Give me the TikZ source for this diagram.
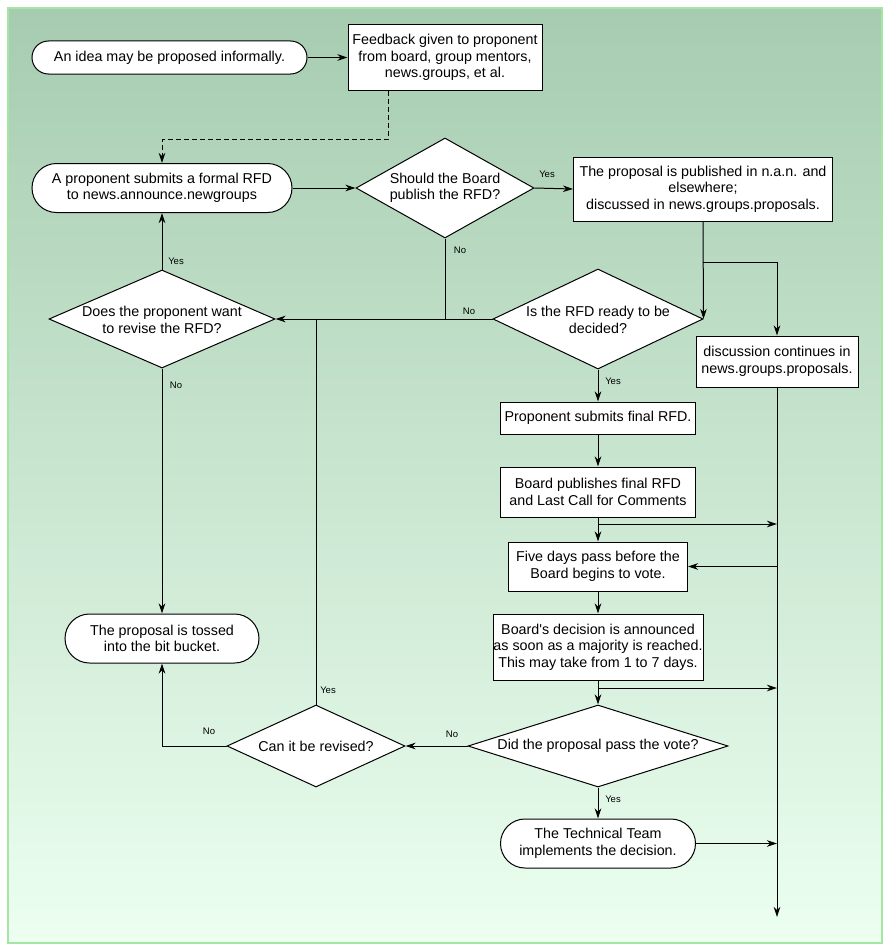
\documentclass[tikz,border=0pt]{standalone}
\usepackage{fontspec}
\setmainfont{Liberation Sans}[Ligatures=TeXOff]
\usetikzlibrary{shapes.geometric,shapes.misc,arrows.meta,calc}
\definecolor{bgtop}{RGB}{166,204,176}
\definecolor{bgbot}{RGB}{236,255,240}
\definecolor{bgframe}{RGB}{165,230,165}
\begin{document}
\begin{tikzpicture}[x=1pt,y=-1pt,
  line width=1pt,
  every node/.style={font=\fontsize{14.3}{16.5}\selectfont, align=center, inner sep=0pt},
  term/.style={rounded rectangle, draw, fill=white},
  procbox/.style={rectangle, draw, fill=white},
  dia/.style={diamond, draw, fill=white},
  lbl/.style={font=\fontsize{9.5}{10}\selectfont},
  arr/.style={-{Stealth[length=10pt,width=6.5pt,inset=3pt]}}
]
\useasboundingbox (0,0) rectangle (889,950);
\shade[top color=bgtop, bottom color=bgbot] (8,8) rectangle (882,943);
\draw[bgframe, line width=1.5pt] (8,8) rectangle (882,943);

% nodes
\node[term, minimum width=275pt, minimum height=33pt] (idea) at (169.5,57.5) {An idea may be proposed informally.};
\node[procbox, minimum width=194pt, minimum height=65pt] (fb) at (445,57.5) {Feedback given to proponent\\from board, group mentors,\\news.groups, et al.};
\node[term, minimum width=260pt, minimum height=49pt] (prop) at (162,188) {A proponent submits a formal RFD\\to news.announce.newgroups};
\node[dia, minimum width=178pt, minimum height=100pt] (should) at (445,188) {};
\node (shouldt) at (445,188) {Should the Board\\publish the RFD?};
\node[procbox, minimum width=259pt, minimum height=64pt] (pub) at (703,189) {The proposal is published in n.a.n. and\\elsewhere;\\discussed in news.groups.proposals.};
\node[dia, minimum width=210pt, minimum height=100pt] (ready) at (598,319) {};
\node (readyt) at (598,320) {Is the RFD ready to be\\decided?};
\node[procbox, minimum width=162pt, minimum height=51pt] (disc) at (777,361.5) {discussion continues in\\news.groups.proposals.};
\node[dia, minimum width=226pt, minimum height=98pt] (does) at (162,319) {};
\node (doest) at (162,320) {Does the proponent want\\to revise the RFD?};
\node[term, minimum width=194pt, minimum height=49pt] (toss) at (162,638.5) {The proposal is tossed\\into the bit bucket.};
\node[procbox, minimum width=195pt, minimum height=32pt] (final) at (598,418) {Proponent submits final RFD.};
\node[procbox, minimum width=195pt, minimum height=50pt] (bpub) at (598,492) {Board publishes final RFD\\and Last Call for Comments};
\node[procbox, minimum width=179pt, minimum height=49pt] (five) at (598,566.5) {Five days pass before the\\Board begins to vote.};
\node[procbox, minimum width=210pt, minimum height=66pt] (dec) at (598,647) {Board's decision is announced\\as soon as a majority is reached.\\This may take from 1 to 7 days.};
\node[dia, minimum width=260pt, minimum height=82pt] (did) at (598,746) {};
\node (didt) at (598,746) {Did the proposal pass the vote?};
\node[dia, minimum width=178pt, minimum height=82pt] (can) at (316,746) {};
\node (cant) at (316,746) {Can it be revised?};
\node[term, minimum width=195pt, minimum height=49pt] (tech) at (598,843.5) {The Technical Team\\implements the decision.};

% coordinates
\coordinate (k1) at (388,139);
\coordinate (b1) at (703,262);
\coordinate (endp) at (777,917);
\coordinate (j1) at (598,524);
\coordinate (j2) at (598,688);
\coordinate (r1) at (777,524);
\coordinate (r2) at (777,688);
\coordinate (r3) at (777,566.5);
\coordinate (r4) at (777,843.5);

% connectors
\draw[arr] (idea.east) -- (fb.west);
\draw[arr, dash pattern=on 5pt off 3pt] (fb.south -| k1) -- (k1) -| (prop.north);
\draw[arr] (prop.east) -- (should.west);
\draw[arr] (should.east) -- (pub.west);
\draw[arr] (pub.south) -- (ready.east);
\draw[arr] (b1) -| (disc.north);
\draw[arr] (disc.south) -- (endp);
\draw[arr] (should.south) |- (does.east);
\draw (ready.west) -- (should.south |- ready.west);
\draw[arr] (does.north) -- (prop.south);
\draw[arr] (does.south) -- (toss.north);
\draw (can.north) -- (can.north |- does.east);
\draw[arr] (can.west) -| (toss.south);
\draw[arr] (did.west) -- (can.east);
\draw[arr] (did.south) -- (tech.north);
\draw[arr] (tech.east) -- (r4);
\draw[arr] (ready.south) -- (final.north);
\draw[arr] (final.south) -- (bpub.north);
\draw[arr] (bpub.south) -- (five.north);
\draw[arr] (j1) -- (r1);
\draw[arr] (r3) -- (five.east);
\draw[arr] (five.south) -- (dec.north);
\draw[arr] (dec.south) -- (did.north);
\draw[arr] (j2) -- (r2);

% labels
\node[lbl] (l1) at (547,174) {Yes};
\node[lbl] (l2) at (460,250) {No};
\node[lbl] (l3) at (469,311) {No};
\node[lbl] (l4) at (613,381) {Yes};
\node[lbl] (l5) at (176,261) {Yes};
\node[lbl] (l6) at (176,385) {No};
\node[lbl] (l7) at (328,690) {Yes};
\node[lbl] (l8) at (209,731) {No};
\node[lbl] (l9) at (452,734) {No};
\node[lbl] (l10) at (613,799) {Yes};
\end{tikzpicture}
\end{document}
